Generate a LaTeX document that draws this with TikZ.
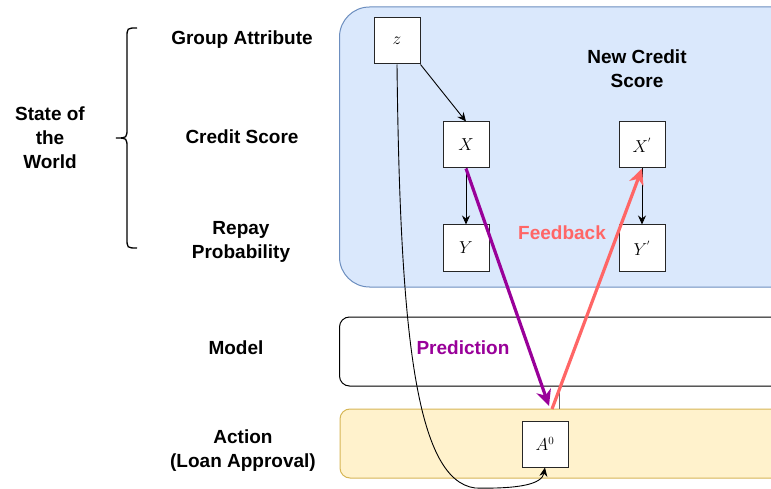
\documentclass[tikz,border=0pt]{standalone}
\usepackage{fontspec}
\setmainfont{Liberation Sans}
\usetikzlibrary{arrows.meta}
\definecolor{stateFill}{HTML}{DAE8FC}
\definecolor{stateLine}{HTML}{6C8EBF}
\definecolor{actFill}{HTML}{FFF2CC}
\definecolor{actLine}{HTML}{D6B656}
\definecolor{predCol}{HTML}{990099}
\definecolor{fbCol}{HTML}{FF6666}
\definecolor{linkGray}{HTML}{666666}
\tikzset{
  var/.style={draw=black!85, fill=white, line width=1pt, minimum size=46pt, inner sep=0pt,
    font=\fontsize{16}{18}\selectfont},
  lbl/.style={font=\fontsize{19}{24}\selectfont\bfseries, align=center, inner sep=0pt},
  thin arrow/.style={draw=black, line width=0.9pt, -{Stealth[length=9pt,width=8pt,inset=3pt]}},
  big arrow/.style={line width=3.2pt, -{Stealth[length=16pt,width=15pt,inset=5pt]}},
}
\begin{document}
\begin{tikzpicture}[x=1pt,y=-1pt]
\useasboundingbox (0,0) rectangle (771,489);
\clip (0,0) rectangle (771,489);

% layer panels
\draw[fill=stateFill, draw=stateLine, line width=1pt, rounded corners=30pt] (339.5,7) rectangle (830,287);
\draw[fill=white, draw=black, line width=1pt, rounded corners=10pt] (339.5,317) rectangle (830,386);
\draw[fill=actFill, draw=actLine, line width=1pt, rounded corners=10pt] (340,409) rectangle (830,478);

% row labels
\node[lbl] (lga) at (242,40) {Group Attribute};
\node[lbl] (lcs) at (242,137) {Credit Score};
\node[lbl] (lrp) at (241,242) {Repay\\Probability};
\node[lbl] (lmo) at (236,348) {Model};
\node[lbl] (lac) at (243,451) {Action\\(Loan Approval)};
\node[lbl] (lsw) at (50,137.5) {State of\\the\\World};
\node[lbl] (lnc) at (637,69) {New Credit\\Score};
\node[lbl, text=fbCol] (lfb) at (562,233) {Feedback};
\node[lbl, text=predCol] (lpr) at (463,348) {Prediction};

% brace grouping the world-state rows
\draw[line width=1.3pt] (137,28) .. controls (127,28) .. (127,38) -- (127,128)
  .. controls (127,138) .. (116,138) .. controls (127,138) .. (127,148)
  -- (127,238) .. controls (127,248) .. (137,248);

% variables
\node[var] (z) at (397,41) {$z$};
\node[var] (x) at (466,145) {$X$};
\node[var] (y) at (466,248) {$Y$};
\node[var] (xp) at (642,145) {$X^{'}$};
\node[var] (yp) at (642,248) {$Y^{'}$};
\node[var] (a) at (545,444) {$A^{0}$};

% connector ends on the panels
\coordinate (pend) at (549,406);
\coordinate (fstart) at (552,409);
\coordinate (mb) at (559,386);
\coordinate (at) at (559,409);

% edges
\draw[linkGray, line width=1pt] (mb) -- (at);
\draw[thin arrow] (z.south east) -- (x.north);
\draw[thin arrow] (x.south) -- (y.north);
\draw[thin arrow] (xp.south) -- (yp.north);
\draw[thin arrow] (z.south) .. controls (400,330) and (415,480) .. (475,488)
  .. controls (520,489) and (542,484) .. (a.south);
\draw[big arrow, predCol] (x.south) -- (pend);
\draw[big arrow, fbCol] (fstart) -- (xp.south);
\end{tikzpicture}
\end{document}
